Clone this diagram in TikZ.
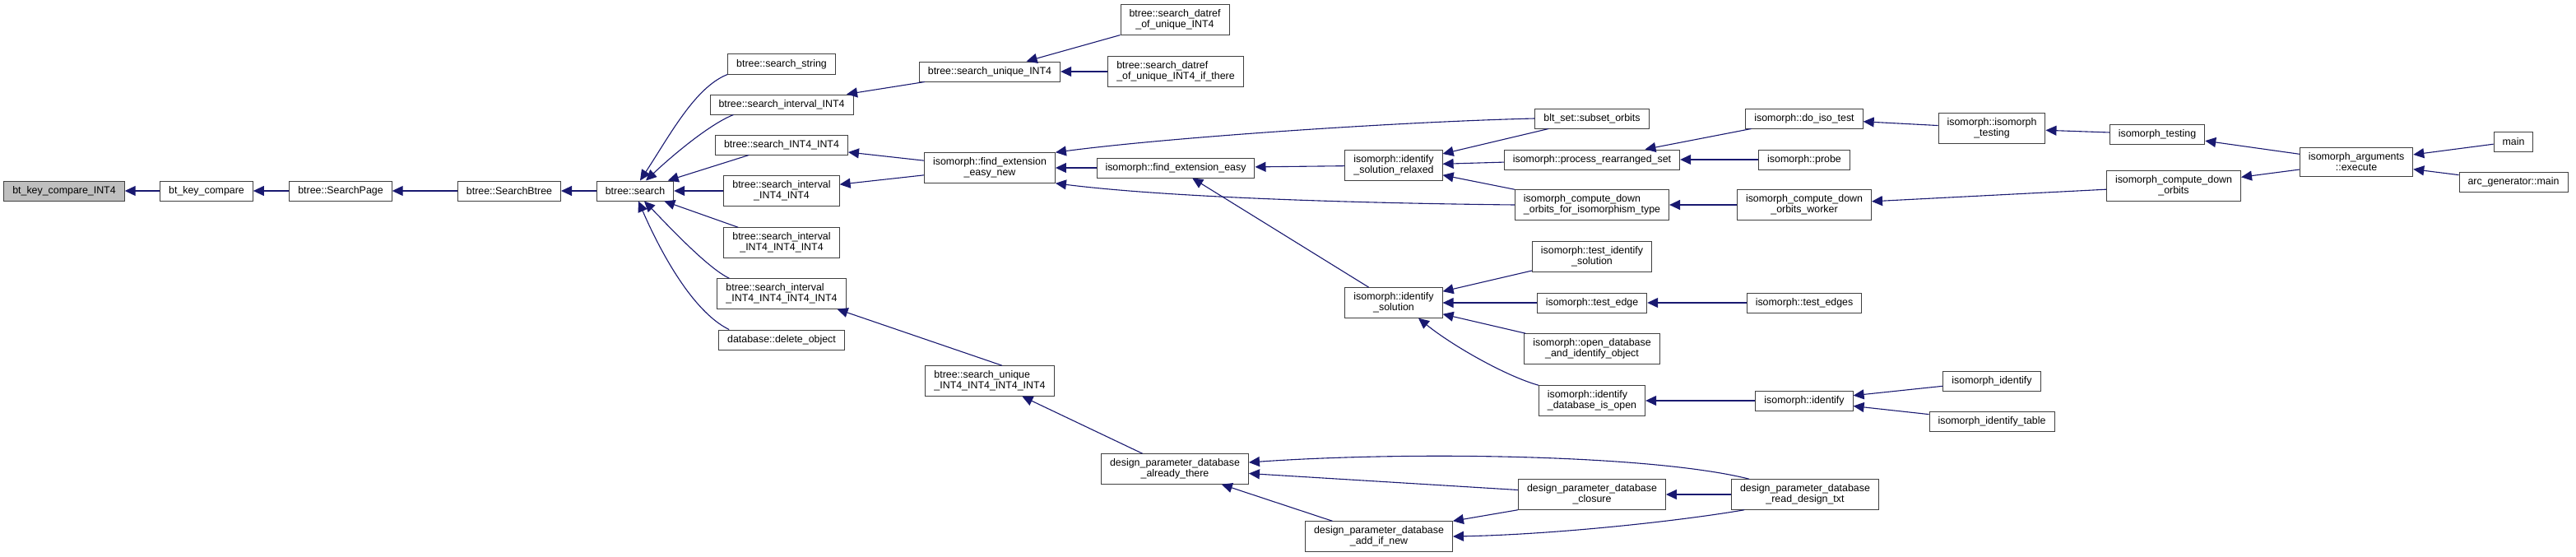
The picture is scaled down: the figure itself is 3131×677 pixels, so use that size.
\documentclass[tikz,border=0pt]{standalone}
\usepackage{fontspec}
\setmainfont{Liberation Sans}
\usepackage{xcolor}
\usepackage{tikz}
\usetikzlibrary{arrows.meta}
\definecolor{edgeblue}{HTML}{191970}
\definecolor{boxline}{HTML}{404040}
\definecolor{rootfill}{HTML}{BFBFBF}

\tikzset{
    fnbox/.style={draw=boxline, line width=1pt, fill=white, align=center,
        font=\fontsize{12.4pt}{13pt}\selectfont,
        inner xsep=10.5pt, inner ysep=6pt, minimum height=24pt},
    fnleft/.style={fnbox, align=left},
    rootbox/.style={fnbox, fill=rootfill},
    callarrow/.style={edgeblue, line width=1.1pt,
        -{Triangle[length=13pt,width=12pt]}},
}

\begin{document}
\begin{tikzpicture}[x=1pt,y=-1pt]
    \useasboundingbox (0,0) rectangle (3131,677);

    % functions
    \node[rootbox] (keyint4) at (78,232) {bt\_key\_compare\_INT4};
    \node[fnbox] (keycmp) at (251,232) {bt\_key\_compare};
    \node[fnbox] (searchpage) at (414,232) {btree::SearchPage};
    \node[fnbox] (searchbtree) at (619,232) {btree::SearchBtree};
    \node[fnbox] (search) at (772,232) {btree::search};
    \node[fnbox] (sstring) at (950,78) {btree::search\_string};
    \node[fnbox] (sivl1) at (950,127) {btree::search\_interval\_INT4};
    \node[fnbox] (sint2) at (950,176) {btree::search\_INT4\_INT4};
    \node[fnbox] (sivl2) at (950,232) {btree::search\_interval\\\_INT4\_INT4};
    \node[fnbox] (sivl3) at (950,295) {btree::search\_interval\\\_INT4\_INT4\_INT4};
    \node[fnleft] (sivl4) at (950,357) {btree::search\_interval\\\_INT4\_INT4\_INT4\_INT4};
    \node[fnbox] (delobj) at (950,413) {database::delete\_object};
    \node[fnbox] (suniq) at (1203,87) {btree::search\_unique\_INT4};
    \node[fnbox] (datref) at (1428,24) {btree::search\_datref\\\_of\_unique\_INT4};
    \node[fnleft] (datrefthere) at (1429,87) {btree::search\_datref\\\_of\_unique\_INT4\_if\_there};
    \node[fnbox] (findnew) at (1203,204) {isomorph::find\_extension\\\_easy\_new};
    \node[fnbox] (findeasy) at (1429,204) {isomorph::find\_extension\_easy};
    \node[fnleft] (suniq4) at (1203,463) {btree::search\_unique\\\_INT4\_INT4\_INT4\_INT4};
    \node[fnbox] (already) at (1428,570) {design\_parameter\_database\\\_already\_there};
    \node[fnbox] (addnew) at (1676,652) {design\_parameter\_database\\\_add\_if\_new};
    \node[fnbox] (subsetorb) at (1935,144) {blt\_set::subset\_orbits};
    \node[fnbox] (idrelax) at (1694,201) {isomorph::identify\\\_solution\_relaxed};
    \node[fnbox] (procset) at (1935,194) {isomorph::process\_rearranged\_set};
    \node[fnleft] (cdiso) at (1935,249) {isomorph\_compute\_down\\\_orbits\_for\_isomorphism\_type};
    \node[fnbox] (testidsol) at (1935,312) {isomorph::test\_identify\\\_solution};
    \node[fnbox] (idsol) at (1694,368) {isomorph::identify\\\_solution};
    \node[fnbox] (testedge) at (1935,368) {isomorph::test\_edge};
    \node[fnbox] (opendb) at (1935,424) {isomorph::open\_database\\\_and\_identify\_object};
    \node[fnleft] (iddbopen) at (1935,487) {isomorph::identify\\\_database\_is\_open};
    \node[fnbox] (closure) at (1935,601) {design\_parameter\_database\\\_closure};
    \node[fnbox] (readtxt) at (2194,601) {design\_parameter\_database\\\_read\_design\_txt};
    \node[fnbox] (doiso) at (2193,144) {isomorph::do\_iso\_test};
    \node[fnbox] (probe) at (2193,194) {isomorph::probe};
    \node[fnbox] (cdworker) at (2193,249) {isomorph\_compute\_down\\\_orbits\_worker};
    \node[fnbox] (testedges) at (2193,368) {isomorph::test\_edges};
    \node[fnbox] (identify) at (2193,487) {isomorph::identify};
    \node[fnbox] (isomtesting) at (2421,156) {isomorph::isomorph\\\_testing};
    \node[fnbox] (isotesting) at (2622,163) {isomorph\_testing};
    \node[fnbox] (cdorbits) at (2642,226) {isomorph\_compute\_down\\\_orbits};
    \node[fnbox] (execute) at (2864,197) {isomorph\_arguments\\::execute};
    \node[fnbox] (mainfn) at (3055,172) {main};
    \node[fnbox] (arcmain) at (3055,221) {arc\_generator::main};
    \node[fnbox] (isoid) at (2421,463) {isomorph\_identify};
    \node[fnbox] (isoidtable) at (2421,512) {isomorph\_identify\_table};

    % calls (caller -> callee)
    \draw[callarrow] (keycmp) -- (keyint4);
    \draw[callarrow] (searchpage) -- (keycmp);
    \draw[callarrow] (searchbtree) -- (searchpage);
    \draw[callarrow] (search) -- (searchbtree);
    \draw[callarrow] (sstring.south west) .. controls (845,106) and (815,163) .. ([xshift=6pt]search.north);
    \draw[callarrow] ([xshift=29pt]sivl1.south west) .. controls (862,151) and (815,191) .. ([xshift=13pt]search.north);
    \draw[callarrow] (sint2) -- (search);
    \draw[callarrow] (sivl2) -- (search);
    \draw[callarrow] (sivl3) -- (search);
    \draw[callarrow] ([xshift=15pt]sivl4.north west) .. controls (860,326) and (810,272) .. ([xshift=11pt]search.south);
    \draw[callarrow] ([xshift=13pt]delobj.north west) .. controls (840,378) and (800,300) .. ([xshift=4pt]search.south);
    \draw[callarrow] (suniq) -- (sivl1);
    \draw[callarrow] (datref) -- (suniq);
    \draw[callarrow] (datrefthere) -- (suniq);
    \draw[callarrow] (findnew) -- (sint2);
    \draw[callarrow] (findnew) -- (sivl2);
    \draw[callarrow] ([xshift=15pt]suniq4.north) -- ([xshift=-11pt]sivl4.south east);
    \draw[callarrow] (already) -- (suniq4);
    \draw[callarrow] (findeasy) -- (findnew);
    \draw[callarrow] (subsetorb.west) .. controls (1700,148) and (1420,167) .. (findnew.north east);
    \draw[callarrow] (cdiso.west) .. controls (1650,247) and (1420,240) .. (findnew.south east);
    \draw[callarrow] (idrelax) -- (findeasy);
    \draw[callarrow] (idsol) -- (findeasy);
    \draw[callarrow] (subsetorb) -- (idrelax);
    \draw[callarrow] (procset) -- (idrelax);
    \draw[callarrow] (cdiso) -- (idrelax);
    \draw[callarrow] (testidsol) -- (idsol);
    \draw[callarrow] (testedge) -- (idsol);
    \draw[callarrow] (opendb) -- (idsol);
    \draw[callarrow] (iddbopen.north west) .. controls (1830,457) and (1765,420) .. ([xshift=30pt]idsol.south);
    \draw[callarrow] (doiso) -- (procset);
    \draw[callarrow] (probe) -- (procset);
    \draw[callarrow] (cdworker) -- (cdiso);
    \draw[callarrow] (testedges) -- (testedge);
    \draw[callarrow] (identify) -- (iddbopen);
    \draw[callarrow] (isomtesting) -- (doiso);
    \draw[callarrow] (isotesting) -- (isomtesting);
    \draw[callarrow] (cdorbits) -- (cdworker);
    \draw[callarrow] (execute) -- (isotesting);
    \draw[callarrow] (execute) -- (cdorbits);
    \draw[callarrow] (mainfn) -- (execute);
    \draw[callarrow] (arcmain) -- (execute);
    \draw[callarrow] (isoid) -- (identify);
    \draw[callarrow] (isoidtable) -- (identify);
    \draw[callarrow] (readtxt) -- (closure);
    \draw[callarrow] (closure) -- (already);
    \draw[callarrow] ([xshift=22pt]readtxt.north west) .. controls (2010,553) and (1720,548) .. ([yshift=8pt]already.east);
    \draw[callarrow] (addnew) -- (already);
    \draw[callarrow] (closure.south west) -- (addnew.north east);
    \draw[callarrow] ([xshift=16pt]readtxt.south west) .. controls (2030,635) and (1880,650) .. (addnew.east);
\end{tikzpicture}
\end{document}
